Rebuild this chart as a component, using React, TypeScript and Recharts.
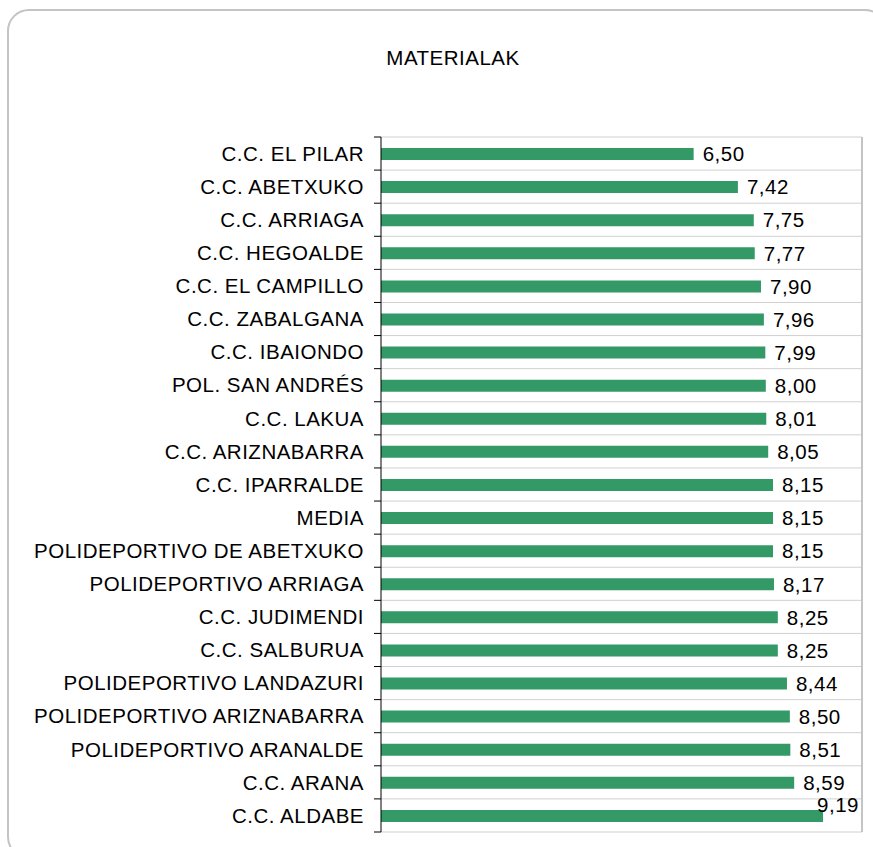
import { BarChart, Bar, XAxis, YAxis, CartesianGrid, LabelList, ReferenceLine } from "recharts";

const centros = [
  "C.C. EL PILAR",
  "C.C. ABETXUKO",
  "C.C. ARRIAGA",
  "C.C. HEGOALDE",
  "C.C. EL CAMPILLO",
  "C.C. ZABALGANA",
  "C.C. IBAIONDO",
  "POL. SAN ANDRÉS",
  "C.C. LAKUA",
  "C.C. ARIZNABARRA",
  "C.C. IPARRALDE",
  "MEDIA",
  "POLIDEPORTIVO DE ABETXUKO",
  "POLIDEPORTIVO ARRIAGA",
  "C.C. JUDIMENDI",
  "C.C. SALBURUA",
  "POLIDEPORTIVO LANDAZURI",
  "POLIDEPORTIVO ARIZNABARRA",
  "POLIDEPORTIVO ARANALDE",
  "C.C. ARANA",
  "C.C. ALDABE",
];

const notas = [
  6.5, 7.42, 7.75, 7.77, 7.9, 7.96, 7.99, 8.0, 8.01, 8.05, 8.15, 8.15, 8.15, 8.17, 8.25, 8.25, 8.44, 8.5, 8.51,
  8.59, 9.19,
];

const data = centros.map((centro, i) => ({ centro, nota: notas[i] }));

const W = 873;
const H = 847;
const MARGIN = { top: 137, right: 11, bottom: 15, left: 0 };
const AXIS_W = 381;
const PLOT_H = H - MARGIN.top - MARGIN.bottom;
const BAND = PLOT_H / centros.length;
const PLOT_RIGHT = W - MARGIN.right;
const FONT = '"Liberation Sans", Arial, sans-serif';
const FS = 20.5;
const LS = "0.5px";
const GREEN = "#339966";

const fmt = (v: number) => v.toFixed(2).replace(".", ",");

function CategoryTick(props: any) {
  const { y, payload, index } = props;
  const last = index === centros.length - 1;
  return (
    <g>
      <text
        x={AXIS_W - 17}
        y={y}
        dy="0.355em"
        textAnchor="end"
        fill="#000"
        fontSize={FS}
        fontFamily={FONT}
        style={{ letterSpacing: LS }}
      >
        {payload.value}
      </text>
      <line x1={AXIS_W - 7} x2={AXIS_W} y1={y - BAND / 2} y2={y - BAND / 2} stroke="#000" />
      {last && <line x1={AXIS_W - 7} x2={AXIS_W} y1={y + BAND / 2} y2={y + BAND / 2} stroke="#000" />}
    </g>
  );
}

function ValueLabel(props: any) {
  const { x, y, width, height, value } = props;
  const text = fmt(value);
  const tw = text.length * 10.5;
  let lx = x + width + 9;
  let ly = y + height / 2;
  let anchor: "start" | "end" = "start";
  // no cabe a la derecha: se sube y se alinea al borde
  if (lx + tw > PLOT_RIGHT) {
    lx = PLOT_RIGHT - 3;
    ly = ly - 11;
    anchor = "end";
  }
  return (
    <text
      x={lx}
      y={ly}
      dy="0.355em"
      textAnchor={anchor}
      fill="#000"
      fontSize={FS}
      fontFamily={FONT}
      style={{ letterSpacing: LS }}
    >
      {text}
    </text>
  );
}

export default function App() {
  return (
    <div style={{ position: "absolute", left: 0, top: 0, width: W, height: H, overflow: "hidden", background: "#fff" }}>
      <div
        style={{
          position: "absolute",
          left: 7,
          top: 9,
          width: 880,
          height: 850,
          border: "2.5px solid #c4c4c4",
          borderRadius: 22,
          boxSizing: "border-box",
        }}
      />
      <div
        style={{
          position: "absolute",
          left: 353,
          top: 46,
          width: 200,
          textAlign: "center",
          fontFamily: FONT,
          fontSize: FS,
          letterSpacing: LS,
          color: "#000",
        }}
      >
        MATERIALAK
      </div>
      <div style={{ position: "absolute", left: 0, top: 0 }}>
        <BarChart width={W} height={H} data={data} layout="vertical" margin={MARGIN}>
          <CartesianGrid
            vertical={false}
            stroke="#d0d0d0"
            horizontalCoordinatesGenerator={({ offset }: any) =>
              centros.map((_, i) => offset.top + i * BAND).concat([offset.top + PLOT_H])
            }
          />
          <XAxis type="number" domain={[0, 10]} hide />
          <YAxis
            type="category"
            dataKey="centro"
            width={AXIS_W}
            axisLine={{ stroke: "#000" }}
            tickLine={false}
            tick={<CategoryTick />}
            interval={0}
          />
          <ReferenceLine x={10} stroke="#c4c4c4" strokeWidth={2} />
          <Bar dataKey="nota" fill={GREEN} barSize={12} isAnimationActive={false}>
            <LabelList dataKey="nota" content={<ValueLabel />} />
          </Bar>
        </BarChart>
      </div>
    </div>
  );
}
